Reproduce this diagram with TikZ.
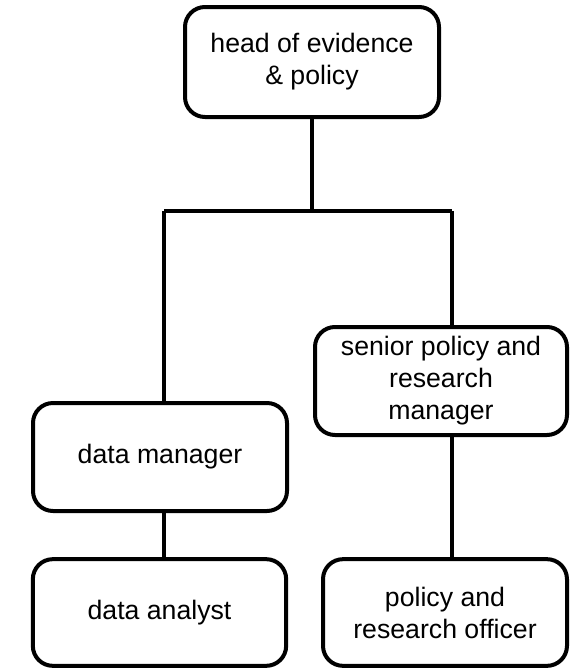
\documentclass[tikz,border=0pt]{standalone}
\usepackage{fontspec}
\setmainfont{Liberation Sans}

\begin{document}
\begin{tikzpicture}[x=0.75pt, y=-0.75pt,
	post/.style={draw, line width=3pt, rounded corners=15pt, align=center,
		inner sep=0pt, font=\fontsize{20}{24}\selectfont},
	link/.style={line width=3pt}]
	\useasboundingbox (0,0) rectangle (569,669);
	\node[post, minimum width=190.5pt, minimum height=82.5pt] (head) at (312,62) {head of evidence\\ \& policy};
	\node[post, minimum width=189pt, minimum height=81pt] (senior) at (441,381) {senior policy and\\ research\\ manager};
	\node[post, minimum width=190.5pt, minimum height=81pt] (dman) at (160,457) {data manager};
	\node[post, minimum width=190pt, minimum height=80pt] (danal) at (159.5,612.5) {data analyst};
	\node[post, minimum width=183pt, minimum height=80pt] (pofficer) at (445,612.5) {policy and\\ research officer};
	% branch bar
	\coordinate (barL) at (164,211);
	\coordinate (barR) at (452,211);
	\draw[link] (head.south) -- (head.south |- barL);
	\draw[link] (barL) -- (barR);
	\draw[link] (barL) -- (barL |- dman.north);
	\draw[link] (barR) -- (barR |- senior.north);
	\draw[link] (barL |- dman.south) -- (barL |- danal.north);
	\draw[link] (barR |- senior.south) -- (barR |- pofficer.north);
\end{tikzpicture}
\end{document}
